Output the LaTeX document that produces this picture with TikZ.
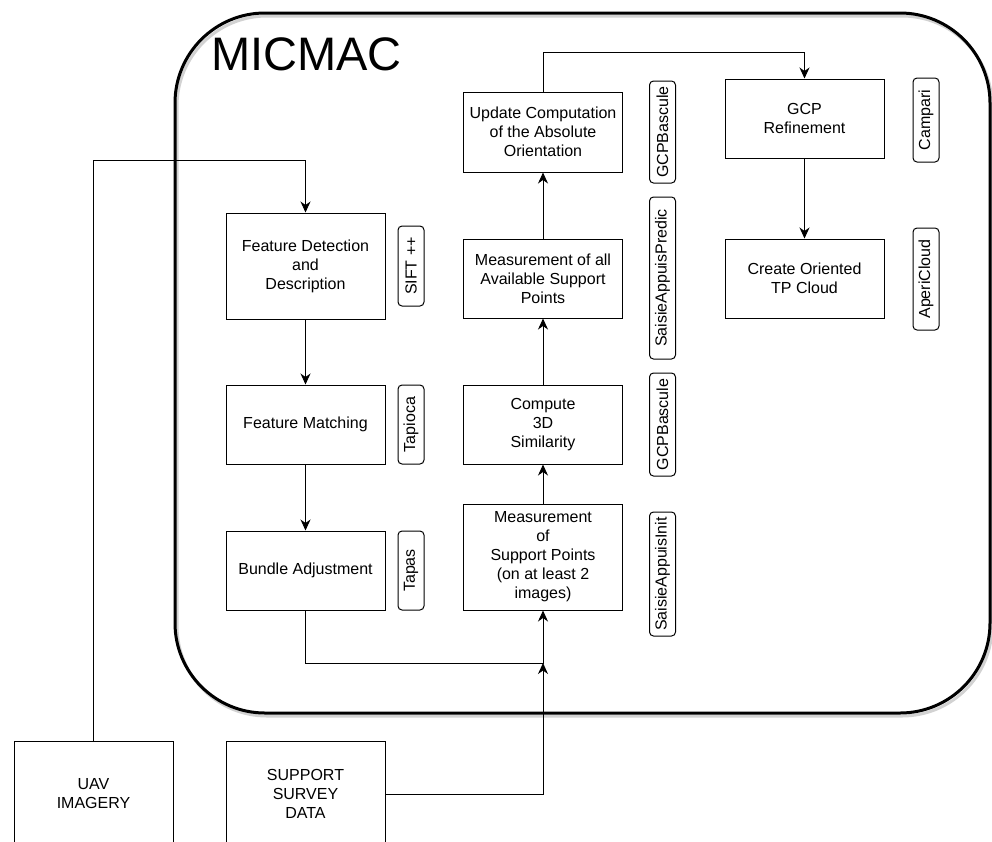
\documentclass[tikz,border=0pt]{standalone}
\usepackage{fontspec}
\setmainfont{Liberation Sans}
\usepackage{tikz}
\usetikzlibrary{arrows.meta}
\usetikzlibrary{calc}

\begin{document}
\begin{tikzpicture}[x=1pt,y=-1pt,
  stage/.style={shape=rectangle,draw,line width=1pt,minimum width=159pt,minimum height=79pt,inner sep=0pt,align=center,font=\fontsize{16}{19}\selectfont},
  tool/.style={shape=rectangle,draw,rounded corners=4pt,line width=1pt,rotate=90,minimum height=26pt,inner sep=0pt,font=\fontsize{16}{19}\selectfont},
  flow/.style={line width=1pt,-{Stealth[length=11pt,width=10pt,inset=3.5pt]}}]
\useasboundingbox (0,0) rectangle (992,841);
\clip (0,0) rectangle (992,841);
% MICMAC frame
\draw[gray!35,line width=3pt,rounded corners=90pt] (177,16) rectangle (992,716);
\draw[line width=3pt,rounded corners=90pt] (175,13) rectangle (990,713);
\node[anchor=base west,inner sep=0pt,font=\fontsize{47}{56}\selectfont] (title) at (211,70) {MICMAC};
% left column
\node[stage,minimum height=106pt] (fdet) at (305.5,266) {Feature Detection\\and\\Description};
\node[stage] (fmat) at (305.5,424.5) {Feature Matching};
\node[stage] (bund) at (305.5,570.5) {Bundle Adjustment};
\node[tool,minimum width=80pt] (sift) at (411,266) {SIFT ++};
\node[tool,minimum width=79pt] (tapioca) at (411,424.5) {Tapioca};
\node[tool,minimum width=79pt] (tapas) at (411,570.5) {Tapas};
% middle column
\node[stage,minimum height=80pt] (upd) at (543,132) {Update Computation\\of the Absolute\\Orientation};
\node[stage] (mall) at (543,278.5) {Measurement of all\\Available Support\\Points};
\node[stage] (sim) at (543,424.5) {Compute\\3D\\Similarity};
\node[stage,minimum height=106pt] (msup) at (543,557) {Measurement\\of\\Support Points\\(on at least 2\\images)};
\node[tool,minimum width=102pt] (gcpbup) at (662.5,132) {GCPBascule};
\node[tool,minimum width=162pt] (sapred) at (662.5,278) {SaisieAppuisPredic};
\node[tool,minimum width=103pt] (gcpbsim) at (662.5,424.5) {GCPBascule};
\node[tool,minimum width=124pt] (sainit) at (662.5,574) {SaisieAppuisInit};
% right column
\node[stage] (gcpr) at (804.5,118.5) {GCP\\Refinement};
\node[stage] (ctp) at (804.5,278.5) {Create Oriented\\TP Cloud};
\node[tool,minimum width=84pt] (campari) at (926,120) {Campari};
\node[tool,minimum width=102pt] (aperi) at (926,279) {AperiCloud};
% inputs
\node[stage,minimum height=106pt] (uav) at (93.5,794) {UAV\\IMAGERY};
\node[stage,minimum height=106pt] (supp) at (305.5,794) {SUPPORT\\SURVEY\\DATA};
% connectors
\coordinate (imgin) at (305.5,160);
\coordinate (join) at (543,663);
\coordinate (orient) at (804.5,52);
\draw[flow] (uav.north) |- (imgin) -- (fdet.north);
\draw[flow] (fdet) -- (fmat);
\draw[flow] (fmat) -- (bund);
\draw[flow] (bund.south) |- (join) -- (msup.south);
\draw[flow] (supp.east) -| (join);
\draw[flow] (msup) -- (sim);
\draw[flow] (sim) -- (mall);
\draw[flow] (mall) -- (upd);
\draw[flow] (upd.north) |- (orient) -- (gcpr.north);
\draw[flow] (gcpr) -- (ctp);
\end{tikzpicture}
\end{document}
